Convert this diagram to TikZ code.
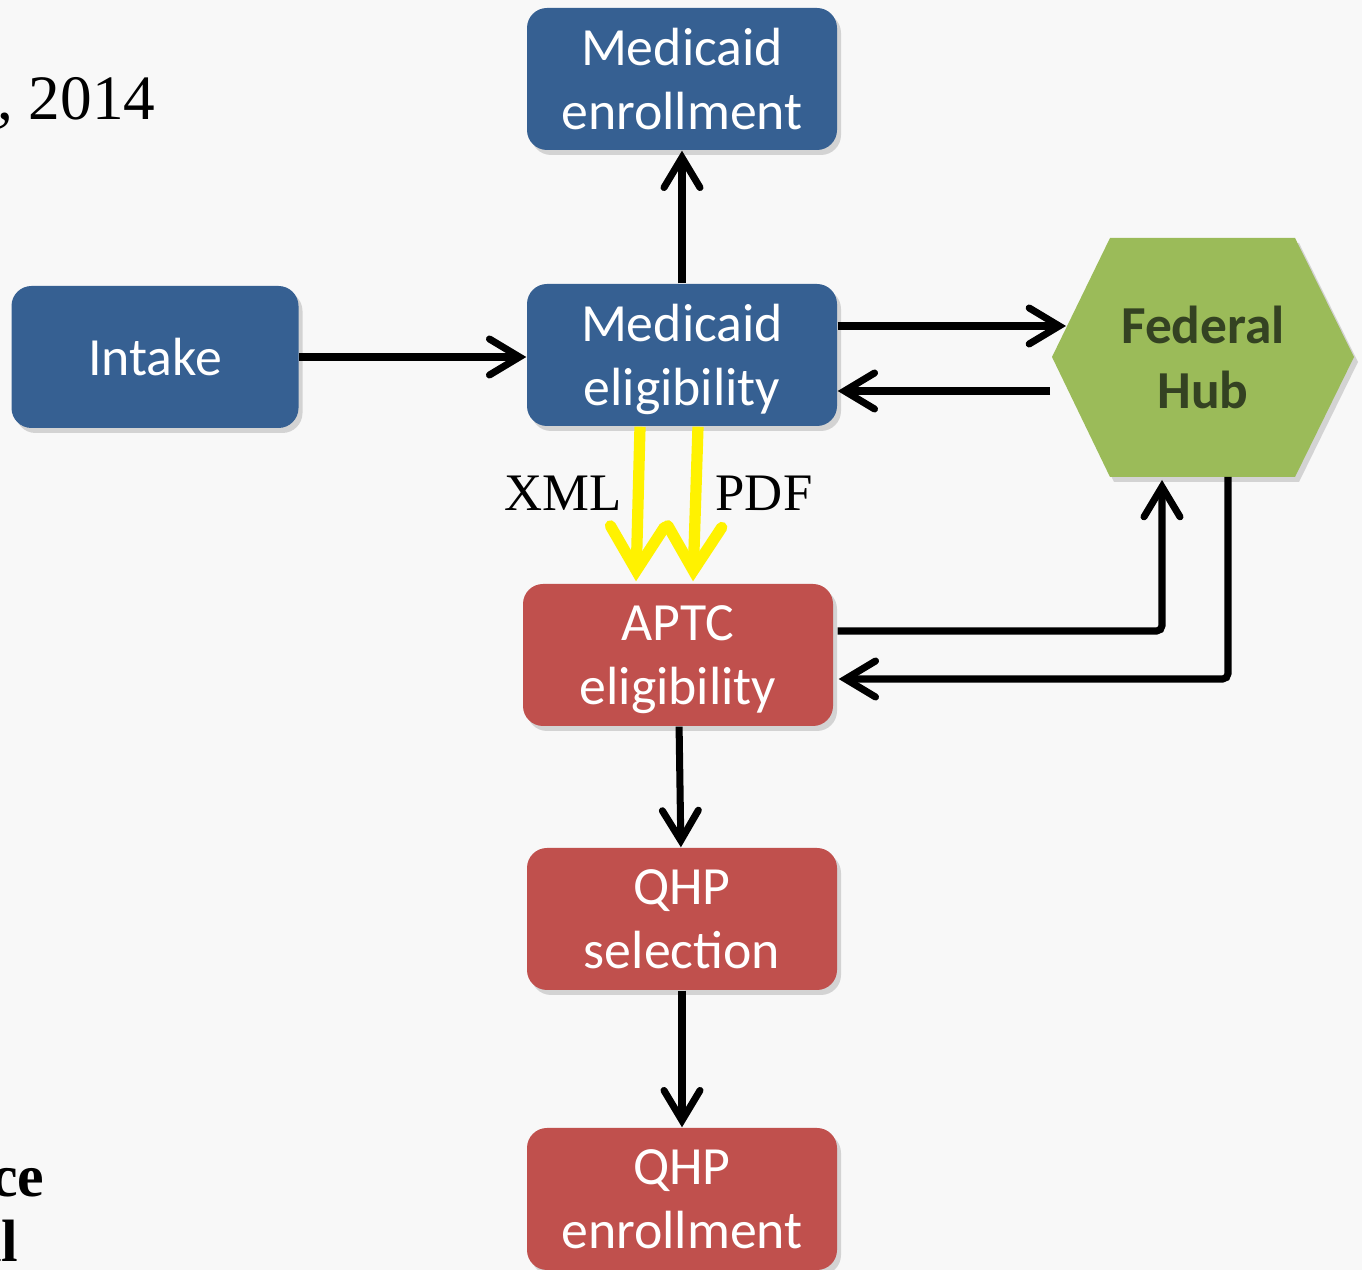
\documentclass[tikz,border=0pt]{standalone}
\usepackage{fontspec}
\setmainfont{Carlito}
\newfontfamily\serifface{Liberation Serif}
\usetikzlibrary{arrows.meta,shadows}

\definecolor{medblue}{RGB}{54,96,146}
\definecolor{aptcred}{RGB}{192,80,77}
\definecolor{hubgreen}{RGB}{155,187,89}
\definecolor{hubtext}{RGB}{52,66,34}
\definecolor{pagebg}{RGB}{248,248,248}

\tikzset{
  box/.style={rectangle, rounded corners=0.2cm, minimum width=3.1cm, minimum height=1.42cm,
    text=white, align=center, text depth=0pt, font=\fontsize{15.3}{18.4}\selectfont,
    drop shadow={opacity=0.3, shadow xshift=0.04cm, shadow yshift=-0.05cm}},
  bluebox/.style={box, fill=medblue},
  redbox/.style={box, fill=aptcred},
  link/.style={line width=2pt, rounded corners=1.5pt, -{Straight Barb[length=3mm,width=3.6mm,line cap=round]}},
  xfer/.style={yellow, line width=3.2pt, -{Straight Barb[length=4.4mm,width=5.4mm,line cap=round]}},
  side/.style={font=\serifface\fontsize{15}{17}\selectfont}
}

\begin{document}
\begin{tikzpicture}
    \useasboundingbox (0,0) rectangle (13.62,12.70);
    \fill[pagebg] (0,0) rectangle (13.62,12.70);
    \clip (0,0) rectangle (13.62,12.70);

    % slide text cut off at the left edge
    \node[anchor=base east, inner sep=0, font=\serifface\fontsize{18}{22}\selectfont] (year) at (1.56,11.50) {, 2014};
    \node[anchor=base east, inner sep=0, font=\serifface\bfseries\fontsize{17}{20}\selectfont] (ce) at (0.45,0.73) {ce};
    \node[anchor=base east, inner sep=0, font=\serifface\bfseries\fontsize{17}{20}\selectfont] (ll) at (0.19,0.08) {ll};

    % boxes
    \node[bluebox] (menroll) at (6.82,11.91) {Medicaid\\enrollment};
    \node[bluebox, minimum width=2.87cm] (intake) at (1.55,9.13) {Intake};
    \node[bluebox] (melig) at (6.82,9.15) {Medicaid\\eligibility};
    \node[redbox] (aptc) at (6.78,6.15) {APTC\\eligibility};
    \node[redbox] (qsel) at (6.82,3.51) {QHP\\selection};
    \node[redbox] (qenroll) at (6.82,0.71) {QHP\\enrollment};

    % federal hub
    \fill[hubgreen, drop shadow={opacity=0.3, shadow xshift=0.04cm, shadow yshift=-0.05cm}]
        (11.10,10.32) -- (12.95,10.32) -- (13.54,9.13) -- (12.95,7.93) -- (11.10,7.93) -- (10.52,9.13) -- cycle;
    \node[align=center, text=hubtext, text depth=0pt, font=\bfseries\fontsize{15.2}{18.4}\selectfont] (hub) at (12.03,9.13) {Federal\\Hub};
    \coordinate (hubin) at (10.66,9.44);
    \coordinate (hubout) at (10.50,8.79);
    \coordinate (hubup) at (11.62,7.90);
    \coordinate (hubdown) at (12.28,7.93);

    % connectors
    \draw[link] (intake.east) -- (intake.east -| melig.west);
    \draw[link] (melig) -- (menroll);
    \draw[link] (melig.east |- hubin) -- (hubin);
    \draw[link] (hubout) -- (melig.east |- hubout);
    \draw[xfer] ([xshift=-0.42cm]melig.south) -- ([xshift=-0.42cm,yshift=0.02cm]aptc.north);
    \draw[xfer] ([xshift=0.16cm]melig.south) -- ([xshift=0.15cm,yshift=0.02cm]aptc.north);
    \node[side] (xml) at (5.63,7.77) {XML};
    \node[side] (pdf) at (7.64,7.77) {PDF};
    \draw[link] ([xshift=0.04cm,yshift=0.24cm]aptc.east) -| (hubup);
    \draw[link] (hubdown) |- ([xshift=0.05cm,yshift=-0.24cm]aptc.east);
    \draw[link] (aptc) -- (qsel);
    \draw[link] (qsel) -- (qenroll);
\end{tikzpicture}
\end{document}
